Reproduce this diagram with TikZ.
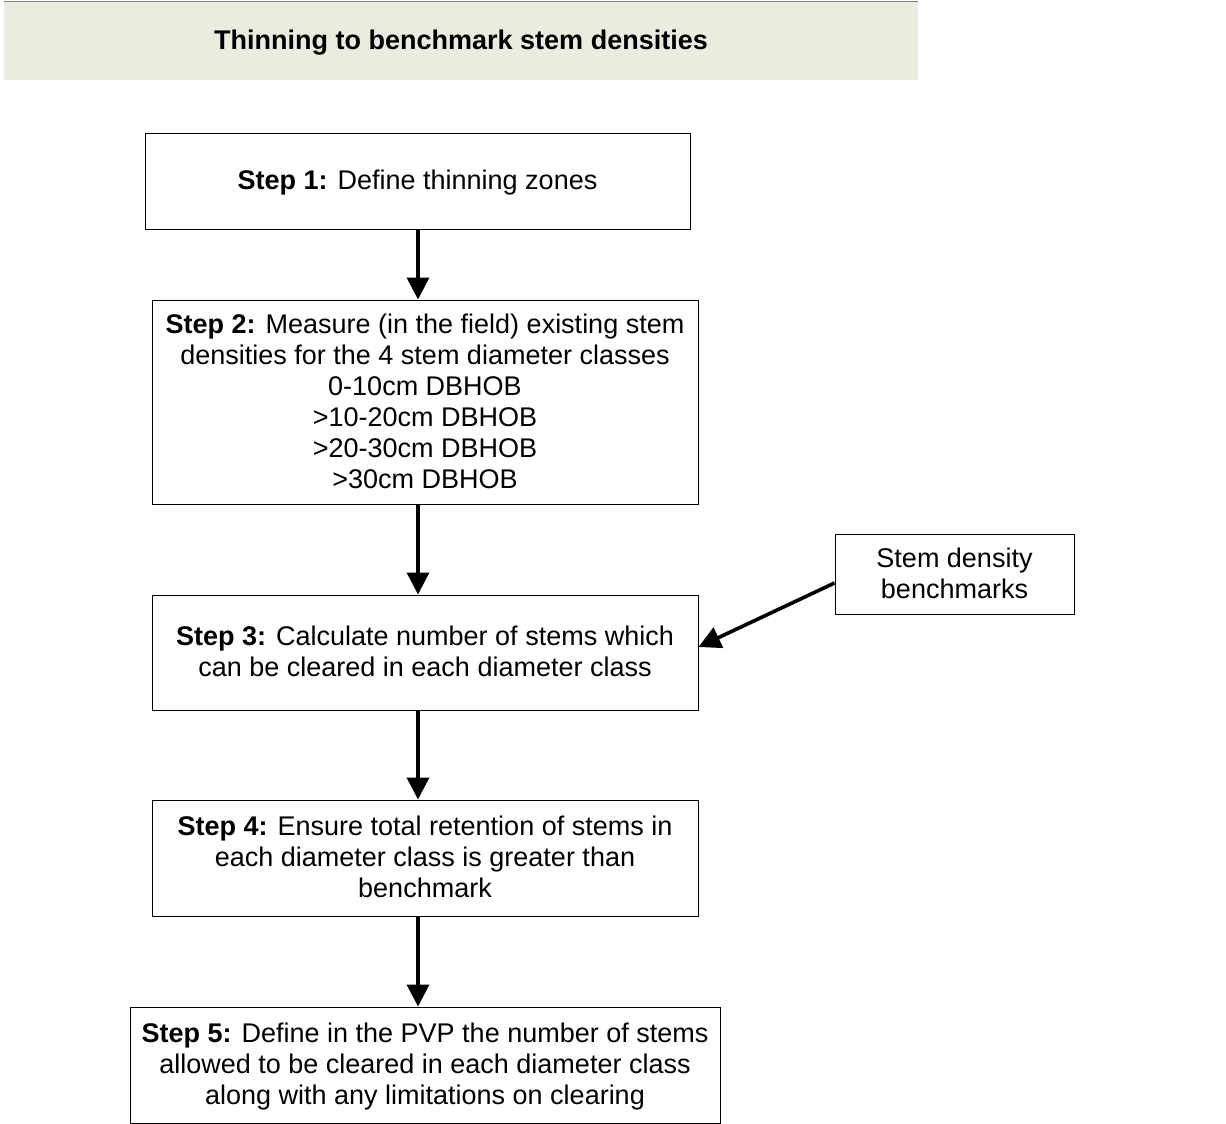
\documentclass[tikz,border=0pt]{standalone}
\usepackage{fontspec}
\setmainfont{Liberation Sans}
\usetikzlibrary{arrows.meta}
\definecolor{headfill}{HTML}{EBEBDF}
\definecolor{headline}{HTML}{808080}
\begin{document}
\begin{tikzpicture}[x=1pt,y=-1pt,
  stepbox/.style={draw=black,line width=1pt,align=center,inner sep=0pt,
    font=\fontsize{27}{31}\selectfont,text depth=2pt},
  flow/.style={line width=3.6pt,-{Triangle[length=22pt,width=22pt]}}]
\useasboundingbox (0,0) rectangle (1226,1124);
% title bar
\fill[headfill] (4,2) rectangle (918,80);
\draw[headline,line width=1pt] (4,2) -- (918,2);
\node (title) at (461,43) {\fontsize{27}{31}\selectfont\bfseries Thinning to benchmark stem densities};
% step boxes
\node[stepbox,minimum width=545pt,minimum height=96pt] (s1) at (417.5,181)
  {\textbf{Step 1:} Define thinning zones};
\node[stepbox,minimum width=546pt,minimum height=204pt] (s2) at (425,402)
  {\textbf{Step 2:} Measure (in the field) existing stem\\densities for the 4 stem diameter classes\\0-10cm DBHOB\\>10-20cm DBHOB\\>20-30cm DBHOB\\>30cm DBHOB};
\node[stepbox,minimum width=239pt,minimum height=80pt] (bm) at (954.5,574)
  {Stem density\\benchmarks};
\node[stepbox,minimum width=546pt,minimum height=115pt] (s3) at (425,652.5)
  {\textbf{Step 3:} Calculate number of stems which\\can be cleared in each diameter class};
\node[stepbox,minimum width=546pt,minimum height=116pt] (s4) at (425,858)
  {\textbf{Step 4:} Ensure total retention of stems in\\each diameter class is greater than\\benchmark};
\node[stepbox,minimum width=590pt,minimum height=116pt] (s5) at (425,1065)
  {\textbf{Step 5:} Define in the PVP the number of stems\\allowed to be cleared in each diameter class\\along with any limitations on clearing};
% connectors
\draw[flow] (s1.south -| 418,0) -- (s2.north -| 418,0);
\draw[flow] (s2.south -| 418,0) -- (s3.north -| 418,0);
\draw[flow] (s3.south -| 418,0) -- (s4.north -| 418,0);
\draw[flow] (s4.south -| 418,0) -- (s5.north -| 418,0);
\draw[flow] (bm.west |- 0,583) -- (s3.east |- 0,647);
\end{tikzpicture}
\end{document}
